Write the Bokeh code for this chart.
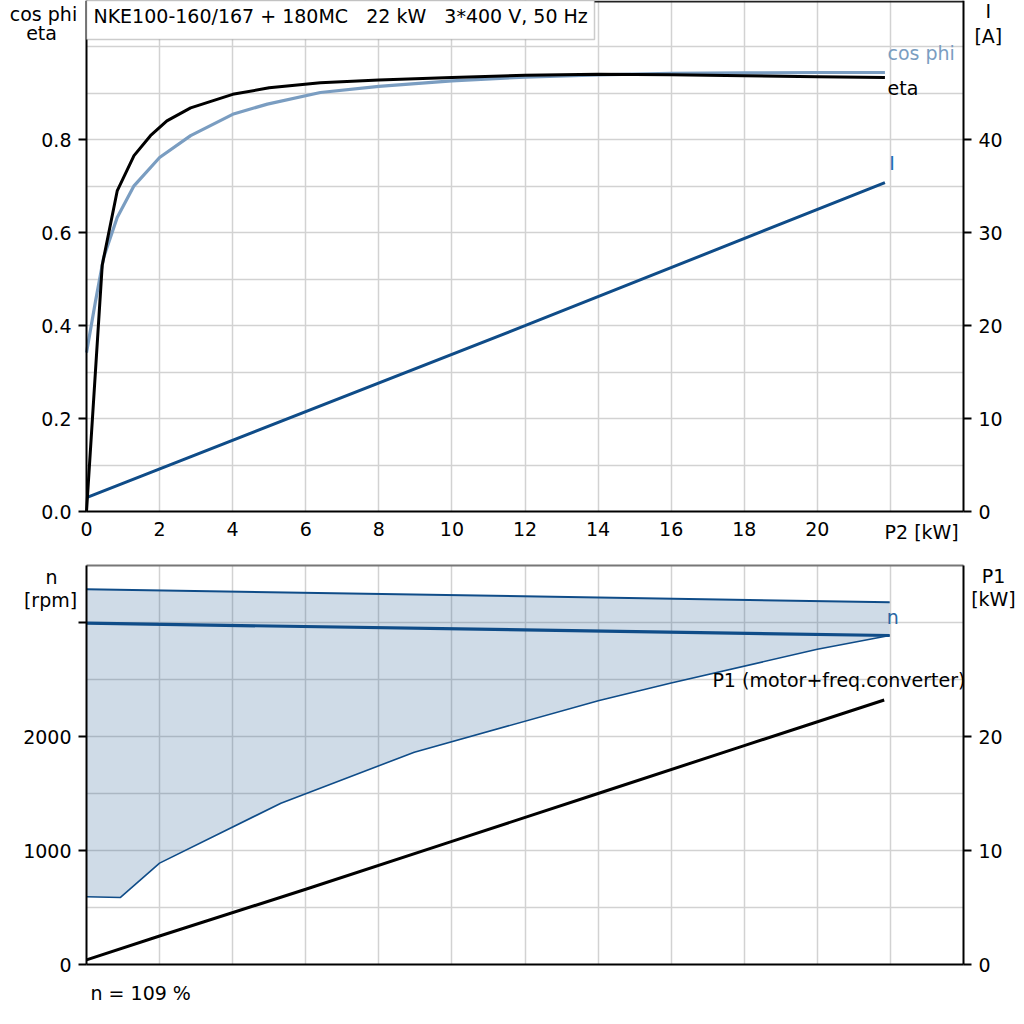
from bokeh.plotting import figure
from bokeh.models import (Range1d, LinearAxis, FixedTicker, Label, BoxAnnotation,
                          PrintfTickFormatter, Grid)
from bokeh.layouts import column
from bokeh.embed import file_html
from bokeh.resources import INLINE

# ---------------- data ----------------
TITLE = "NKE100-160/167 + 180MC   22 kW   3*400 V, 50 Hz"

# upper chart: P2 [kW] on x
eta_p2 = [0, 0.43, 0.84, 1.3, 1.75, 2.2, 2.85, 4.0, 5.0, 6.4, 8.0, 10.0, 12.0, 14.0, 16.0, 18.0, 20.0, 21.85]
eta_val = [0, 0.53, 0.69, 0.766, 0.809, 0.841, 0.869, 0.898, 0.912, 0.923, 0.929, 0.934, 0.939, 0.941, 0.940, 0.938, 0.936, 0.934]

cos_p2 = [0, 0.25, 0.47, 0.84, 1.3, 2.0, 2.85, 4.0, 4.95, 6.4, 8.0, 10.0, 12.0, 14.0, 16.0, 18.0, 20.0, 21.85]
cos_val = [0.342, 0.454, 0.547, 0.633, 0.701, 0.762, 0.809, 0.855, 0.877, 0.902, 0.915, 0.927, 0.935, 0.940, 0.943, 0.944, 0.945, 0.945]

cur_p2 = [0, 12.0, 21.85]
cur_val = [1.5, 20.0, 35.4]          # I [A]

# lower chart
n_p2 = [0, 21.98]
n_val = [2994, 2886]                 # n [rpm]
nmax_p2 = [0, 21.98]
nmax_val = [3292, 3178]
nmin_p2 = [0, 0.93, 2.0, 5.32, 8.97, 14.03, 16.0, 20.0, 21.98]
nmin_val = [594, 588, 889, 1415, 1862, 2316, 2470, 2765, 2886]

p1_p2 = [0, 2, 6, 10, 14, 18, 21.83]
p1_val = [0.4, 2.5, 6.6, 10.8, 15.0, 19.2, 23.2]   # P1 [kW]

X_TICKS = [0, 2, 4, 6, 8, 10, 12, 14, 16, 18, 20]
X_GRID = [2, 4, 6, 8, 10, 12, 14, 16, 18, 20, 22]
ETA_TICKS = [0.0, 0.2, 0.4, 0.6, 0.8]
ETA_GRID = [0.1, 0.2, 0.3, 0.4, 0.5, 0.6, 0.7, 0.8, 0.9, 1.0]
I_TICKS = [0, 10, 20, 30, 40]
N_TICKS = [0, 1000, 2000, 3000]
N_GRID = [500, 1000, 1500, 2000, 2500, 3000]
P1_TICKS = [0, 10, 20]

# axis extents of the two charts
X_MAX = 24
ETA_MAX = 1.1
AMP_PER_UNIT = 50      # 0.2 on the left axis <-> 10 A on the right axis
N_MAX = 3500
KW_PER_RPM = 0.01      # 1000 rpm <-> 10 kW

# ---------------- style / geometry ----------------
FONT = "DejaVu Sans"
FS = "19px"
DARK = "#0f4c88"
LIGHT = "#7a9dc1"
GRID = "#d2d2d2"

W = 1020
PLOT_L, PLOT_W = 86, 877            # plot area inside the canvas (px)
H1, PLOT1_T, PLOT1_H = 549, 0, 511
H2, PLOT2_T, PLOT2_H = 465, 16, 399

px_x = X_MAX / PLOT_W
X_RANGE = (-PLOT_L * px_x, X_MAX + (W - PLOT_L - PLOT_W) * px_x)


def yr(top_px, plot_h, total_h, vmax):
    k = vmax / plot_h
    return (-(total_h - top_px - plot_h) * k, vmax + top_px * k)


HAS_CB = "cross_bounds" in Grid.properties()


def base_fig(h, yrange):
    p = figure(frame_width=W, frame_height=h, x_range=Range1d(*X_RANGE), y_range=Range1d(*yrange),
               output_backend="svg", toolbar_location=None, title_location=None,
               x_axis_location=None, y_axis_location=None, min_border=0,
               background_fill_color="white", border_fill_color="white")
    p.outline_line_color = None
    p.center = [c for c in p.center if not isinstance(c, Grid)]
    return p


def add_grid(p, dim, ticks, cross, loc):
    if HAS_CB:
        p.add_layout(Grid(dimension=dim, ticker=FixedTicker(ticks=ticks, minor_ticks=[]),
                          cross_bounds=cross, grid_line_color=GRID, grid_line_width=1.5))
    else:  # fall back: long inward ticks of an invisible axis
        length = PLOT_H_CUR[0] if dim == 0 else PLOT_W
        ax = LinearAxis(fixed_location=loc, ticker=FixedTicker(ticks=ticks, minor_ticks=[]),
                        major_label_overrides={t: "" for t in ticks}, level="underlay")
        ax.axis_line_color = None
        ax.major_tick_in = length
        ax.major_tick_out = 0
        ax.major_tick_line_color = GRID
        ax.major_tick_line_width = 1.5
        ax.minor_tick_line_color = None
        p.add_layout(ax, "below" if dim == 0 else "left")


def axis(p, side, loc, bounds, ticks, rng="default", out=8, standoff=7, color="black"):
    kw = dict(fixed_location=loc, bounds=bounds, ticker=FixedTicker(ticks=ticks, minor_ticks=[]))
    if side in ("left", "right"):
        kw["y_range_name"] = rng
    ax = LinearAxis(**kw)
    ax.axis_line_color = color
    ax.axis_line_width = 2
    ax.major_tick_line_color = "black" if out else None
    ax.major_tick_line_width = 2
    ax.major_tick_out = out
    ax.major_tick_in = 0
    ax.minor_tick_line_color = None
    ax.major_label_text_font = FONT
    ax.major_label_text_font_size = FS
    ax.major_label_text_color = "black"
    ax.major_label_standoff = standoff
    p.add_layout(ax, side)
    return ax


def lab(p, x, y, text, color="black", align="left", rng="default"):
    p.add_layout(Label(x=x, y=y, text=text, text_font=FONT, text_font_size=FS,
                       text_color=color, text_align=align, text_baseline="middle",
                       y_range_name=rng))


# ---------------- upper figure ----------------
y1 = yr(PLOT1_T, PLOT1_H, H1, ETA_MAX)
p1 = base_fig(H1, y1)
p1.extra_y_ranges = {"amp": Range1d(y1[0] * AMP_PER_UNIT, y1[1] * AMP_PER_UNIT)}
PLOT_H_CUR = [PLOT1_H]
add_grid(p1, 0, X_GRID, (0, ETA_MAX), 0)
add_grid(p1, 1, ETA_GRID, (0, X_MAX), 0)

ax = axis(p1, "left", 0, (0, ETA_MAX), ETA_TICKS)
ax.formatter = PrintfTickFormatter(format="%.1f")
axis(p1, "right", X_MAX, (0, ETA_MAX * AMP_PER_UNIT), I_TICKS, rng="amp")
axis(p1, "below", 0, (0, X_MAX), X_TICKS, out=0, standoff=10)
axis(p1, "above", ETA_MAX * 0.998, (0, X_MAX), [], out=0, color="#222222")

p1.line(cur_p2, cur_val, line_color=DARK, line_width=3, y_range_name="amp")
p1.line(cos_p2, cos_val, line_color=LIGHT, line_width=3.2)
p1.line(eta_p2, eta_val, line_color="black", line_width=3)

p1.add_layout(BoxAnnotation(left=0, right=13.902, bottom=1.016, top=ETA_MAX,
                            fill_color="white", fill_alpha=1.0,
                            line_color="#555555", line_width=1.5))
lab(p1, 0.19, 1.0666, TITLE.replace("   ", "\u00a0\u00a0\u00a0"))
lab(p1, 21.92, 0.986, "cos phi", color=LIGHT)
lab(p1, 21.92, 0.911, "eta")
lab(p1, 21.97, 0.751, "I", color="#1f6db5")
lab(p1, 21.84, -0.0452, "P2 [kW]")
lab(p1, -1.177, 1.072, "cos phi", align="center")
lab(p1, -1.23, 1.029, "eta", align="center")
lab(p1, 24.68, 53.82, "I", align="center", rng="amp")
lab(p1, 24.68, 51.23, "[A]", align="center", rng="amp")

# ---------------- lower figure ----------------
y2 = yr(PLOT2_T, PLOT2_H, H2, N_MAX)
p2 = base_fig(H2, y2)
p2.extra_y_ranges = {"kw": Range1d(y2[0] * KW_PER_RPM, y2[1] * KW_PER_RPM)}
PLOT_H_CUR[0] = PLOT2_H
add_grid(p2, 0, X_GRID, (0, N_MAX), 0)
add_grid(p2, 1, N_GRID, (0, X_MAX), 0)

band_x = nmax_p2 + nmin_p2[::-1]
band_y = nmax_val + nmin_val[::-1]
p2.patch(band_x, band_y, fill_color=DARK, fill_alpha=0.2, line_color=None)
p2.line(nmax_p2, nmax_val, line_color=DARK, line_width=2)
p2.line(nmin_p2, nmin_val, line_color=DARK, line_width=1.6)
p2.line(n_p2, n_val, line_color=DARK, line_width=3.2)
p2.line(p1_p2, p1_val, line_color="black", line_width=3, y_range_name="kw")

ax = axis(p2, "left", 0, (0, N_MAX), N_TICKS)
ax.major_label_overrides = {3000: ""}
axis(p2, "right", X_MAX, (0, N_MAX * KW_PER_RPM), P1_TICKS, rng="kw")
axis(p2, "below", 0, (0, X_MAX), [], out=0)
axis(p2, "above", N_MAX, (0, X_MAX), [], out=0, color="#777777")

lab(p2, 21.9, 3044, "n", color="#2a66a3")
lab(p2, 20.59, 2500, "P1 (motor+freq.converter)", align="center")
lab(p2, -0.958, 3395, "n", align="center")
lab(p2, -0.985, 3193, "[rpm]", align="center")
lab(p2, 24.82, 34.04, "P1", align="center", rng="kw")
lab(p2, 24.82, 32.02, "[kW]", align="center", rng="kw")
lab(p2, 0.11, -246, "n = 109 %")

layout = column(p1, p2)
open("out.html", "w").write(file_html(layout, INLINE))
